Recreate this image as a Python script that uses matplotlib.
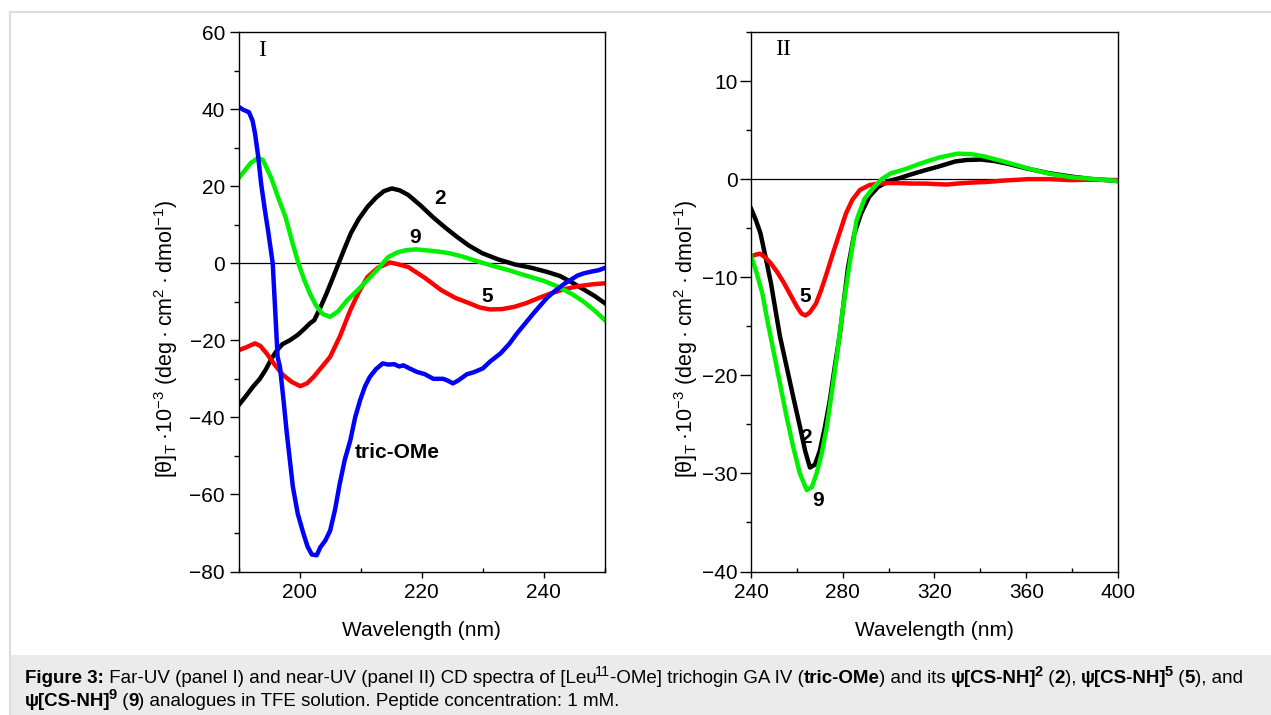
import matplotlib
matplotlib.use("Agg")
import matplotlib.pyplot as plt
from matplotlib.lines import Line2D
from matplotlib.patches import Rectangle
from matplotlib.font_manager import FontProperties
from matplotlib.ticker import MultipleLocator

plt.rcParams['font.family'] = ['Liberation Sans', 'DejaVu Sans']
plt.rcParams['mathtext.fontset'] = 'custom'
plt.rcParams['mathtext.rm'] = 'Liberation Sans'
plt.rcParams['mathtext.it'] = 'Liberation Sans:italic'
plt.rcParams['mathtext.bf'] = 'Liberation Sans:bold'

# ---- panel I (far-UV) ----
wl_tric = [190, 190.8, 191.7, 192.3, 192.7, 193.2, 193.7, 194.3, 194.9, 195.6, 196.0, 196.4,
           196.8, 197.4, 197.9, 198.4, 198.9, 199.7, 200.6, 201.3, 202.0, 202.8, 203.4, 204.2,
           205.0, 205.8, 206.6, 207.4, 208.3, 209.1, 209.9, 210.7, 211.5, 212.5, 213.6, 214.5,
           215.5, 216.3, 217.0, 218.0, 219.2, 220.5, 221.9, 223.5, 224.3, 225.1, 226.0, 227.4,
           228.5, 230.0, 231.2, 232.9, 234.3, 235.6, 237.0, 238.3, 239.5, 240.5, 241.8, 243.2,
           244.5, 245.5, 246.6, 248.0, 249.0, 250.0]
cd_tric = [40.6, 39.8, 39.2, 37, 33.7, 28, 20.7, 14, 7.8, 0, -12, -24.3,
           -27, -36, -44, -51, -58, -65, -70, -73.5, -75.6, -75.8, -73.7, -72,
           -69.4, -64, -57, -51, -46, -40, -35.6, -32, -29.5, -27.5, -26, -26.3,
           -26.2, -26.8, -26.5, -27.3, -28.2, -28.8, -30, -30, -30.5, -31.2, -30.4, -28.8,
           -28.3, -27.3, -25.5, -23.4, -21, -18.2, -15.5, -13, -10.8, -9, -7.2, -5.5,
           -4.2, -3.2, -2.6, -2.1, -1.8, -1.2]

wl_9a = [190, 191, 192, 193.2, 194, 195.4, 196.5, 197.7, 198.8, 199.8, 200.8, 201.7, 202.7,
         203.8, 205, 206.3, 207.8, 209.5, 211.1, 212.8, 214.5, 216.0, 217.5, 219.1, 221,
         222.8, 224.5, 226.5, 228.5, 231.2, 234, 236, 237.9, 240, 242, 244.5, 246.5, 248.3, 250]
cd_9a = [22, 24, 26, 27.3, 26.8, 22, 17, 12, 5.5, 0, -4.5, -7.9, -11,
         -13.2, -13.9, -12.5, -9.6, -7, -4.4, -1.5, 1.6, 2.8, 3.4, 3.6, 3.3,
         3, 2.6, 1.8, 0.8, -0.5, -1.7, -2.7, -3.6, -4.6, -5.9, -7.9, -10, -12.3, -14.8]

wl_2a = [190, 191.2, 192.4, 193.5, 194.5, 195.5, 196.3, 197.2, 198.4, 199.7, 200.8, 201.7,
         202.4, 203.4, 204.4, 205.4, 206.4, 207.4, 208.4, 209.7, 211.1, 212.5, 213.8, 215.1,
         216.4, 217.8, 219.8, 221.8, 223.8, 225.8, 227.8, 229.9, 232.5, 235.2, 238, 240.6,
         242.6, 244.5, 246.5, 248.3, 250]
cd_2a = [-36.9, -34.5, -32, -30, -27.5, -24.5, -22.6, -21, -20, -18.6, -17, -15.6,
         -14.8, -11.5, -7.9, -4, 0, 4, 7.8, 11.5, 14.6, 17, 18.7, 19.4,
         18.9, 17.7, 15, 12, 9.3, 6.8, 4.5, 2.6, 1, -0.3, -1.2, -2.3,
         -3.3, -4.9, -6.8, -8.5, -10.4]

wl_5a = [190, 191.3, 192.7, 193.6, 194.6, 196, 197.3, 198.7, 200.1, 201.2, 202.3, 203.6,
         205, 206.6, 208.3, 209.7, 211.1, 212.8, 214.8, 216.2, 217.8, 220.5, 223.2, 225.5,
         227.8, 229.5, 231.2, 233.2, 235.2, 237.2, 239.2, 241.2, 243.2, 245.5, 247.8, 250]
cd_5a = [-22.6, -21.8, -20.8, -21.5, -23.4, -26.5, -29, -30.8, -31.9, -31.2, -29.5, -27,
         -24.3, -19, -12.2, -7.5, -3.6, -1.2, 0.2, -0.3, -1, -3.8, -7, -9,
         -10.4, -11.5, -12, -11.9, -11.3, -10.3, -9, -7.8, -6.8, -6, -5.5, -5.2]

# ---- panel II (near-UV) ----
wl_2b = [240, 242, 244.1, 246.4, 248.7, 249.7, 252.6, 255.6, 258.5, 261.4, 263.6, 265.7,
         267.9, 270, 272.2, 274.4, 276.6, 278.8, 280.5, 282.3, 285, 288, 291.5, 295.4, 300,
         304.7, 310, 315.8, 322, 329, 334, 340.2, 346, 351.4, 360, 370, 380, 388.7, 395, 400]
cd_2b = [-3, -4.1, -5.5, -8, -10.6, -12, -16, -19.2, -22.3, -25.3, -27.7, -29.4,
         -29.1, -27.7, -25.3, -22.5, -19, -15.7, -12.4, -9, -5.6, -3.5, -1.8, -0.8, -0.2,
         0.1, 0.5, 0.9, 1.3, 1.8, 1.95, 2.0, 1.85, 1.6, 1.1, 0.6, 0.25, 0, -0.1, -0.2]

wl_9b = [240, 242.5, 245, 246.8, 249.7, 252.6, 255.5, 258.4, 261.3, 264.3, 266.5, 268.6,
         270.8, 273, 275.2, 277.4, 280.2, 283, 286, 289.5, 293.6, 297, 301, 307, 314, 322,
         330, 336, 342, 350, 360.8, 370, 379.4, 390, 400]
cd_9b = [-7.8, -9.6, -11.7, -14, -17.4, -20.8, -24.2, -27.3, -30, -31.7, -31.4, -30,
         -28, -25.3, -21.8, -18.1, -13, -8.6, -4.2, -2, -0.8, 0, 0.6, 1, 1.6, 2.2,
         2.6, 2.55, 2.3, 1.8, 1.1, 0.55, 0.2, 0, -0.2]

wl_5b = [240, 242, 244, 246.3, 248.7, 251.5, 254.4, 257.2, 260, 262, 263.7, 265.6, 268.3,
         270.6, 273, 275.8, 278.6, 281.4, 284.2, 287.5, 291.7, 296, 300, 304.7, 310, 316,
         320, 325.3, 330, 336, 342, 350, 360.8, 370, 379, 390, 400]
cd_5b = [-7.9, -7.7, -7.6, -8, -8.6, -9.5, -10.6, -11.8, -13, -13.7, -13.9, -13.6, -12.7,
         -11.3, -9.6, -7.5, -5.5, -3.5, -2.1, -1.1, -0.6, -0.45, -0.4, -0.4, -0.45, -0.45,
         -0.5, -0.55, -0.45, -0.35, -0.3, -0.15, 0, 0, -0.1, -0.05, -0.1]

W, H = 1271, 715
fig = plt.figure(figsize=(W / 100, H / 100), dpi=100)

# page frame and caption box
fig.add_artist(Rectangle((10.5 / W, 0), 1 - 10.5 / W, (H - 655) / H, transform=fig.transFigure,
                         facecolor='#ebebeb', edgecolor='none'))
fig.add_artist(Line2D([10 / W, 1], [1 - 12 / H, 1 - 12 / H], color='#dcdcdc', lw=1.5))
fig.add_artist(Line2D([10 / W, 10 / W], [0, 1 - 12 / H], color='#dcdcdc', lw=1.5))

lw = 3.2
green = '#00f000'
ylab = ("[θ]$_\\mathregular{T}$\u2009·10$^\\mathregular{-3}$ (deg\u2009·\u2009cm$^\\mathregular{2}$"
        "\u2009·\u2009dmol$^\\mathregular{-1}$)")


def style_axes(ax, ymaj, ymin, xmaj, xmin, ylen, ypad):
    ax.yaxis.set_major_locator(MultipleLocator(ymaj))
    ax.yaxis.set_minor_locator(MultipleLocator(ymin))
    ax.xaxis.set_major_locator(MultipleLocator(xmaj))
    ax.xaxis.set_minor_locator(MultipleLocator(xmin))
    ax.tick_params(axis='y', which='major', direction='out', length=ylen, width=1, pad=ypad, labelsize=15)
    ax.tick_params(axis='y', which='minor', direction='out', length=3.5, width=1)
    ax.tick_params(axis='x', which='major', direction='out', length=4, width=1, pad=4, labelsize=15)
    ax.tick_params(axis='x', which='minor', direction='in', length=3, width=1)
    for s in ax.spines.values():
        s.set_linewidth(1)
    ax.axhline(0, color='k', lw=0.9, zorder=1)


# panel I
ax1 = fig.add_axes([238.5 / W, (H - 571.5) / H, (605 - 238.5) / W, (571.5 - 32) / H])
ax1.plot(wl_2a, cd_2a, color='black', lw=lw)
ax1.plot(wl_5a, cd_5a, color='#ff0000', lw=lw)
ax1.plot(wl_9a, cd_9a, color=green, lw=lw)
ax1.plot(wl_tric, cd_tric, color='#0000ff', lw=lw)
ax1.set_xlim(190, 250)
ax1.set_ylim(-80, 60)
style_axes(ax1, 20, 10, 20, 10, 6.2, 3.5)
ax1.text(0.065, 0.966, "I", transform=ax1.transAxes, family='Liberation Serif', fontsize=17,
         ha='center', va='center')
ax1.text(223, 16.9, "2", fontsize=15, weight='bold', ha='center', va='center')
ax1.text(218.9, 6.75, "9", fontsize=15, weight='bold', ha='center', va='center')
ax1.text(230.7, -8.6, "5", fontsize=15, weight='bold', ha='center', va='center')
ax1.text(209.1, -49.1, "tric-OMe", fontsize=15, weight='bold', ha='left', va='center')
ax1.text(-0.198, 0.43, ylab, transform=ax1.transAxes, rotation=90, fontsize=15.5,
         ha='center', va='center')
ax1.text(0.5, -0.109, "Wavelength (nm)", transform=ax1.transAxes, fontsize=15,
         ha='center', va='center')

# panel II
ax2 = fig.add_axes([751 / W, (H - 571.5) / H, (1118 - 751) / W, (571.5 - 32) / H])
ax2.plot(wl_2b, cd_2b, color='black', lw=lw)
ax2.plot(wl_5b, cd_5b, color='#ff0000', lw=lw)
ax2.plot(wl_9b, cd_9b, color=green, lw=lw)
ax2.set_xlim(240, 400)
ax2.set_ylim(-40, 15)
style_axes(ax2, 10, 5, 40, 20, 8, 1.5)
ax2.text(0.088, 0.968, "II", transform=ax2.transAxes, family='Liberation Serif', fontsize=17,
         ha='center', va='center')
ax2.text(263.5, -12.0, "5", fontsize=15, weight='bold', ha='center', va='center')
ax2.text(264.2, -26.3, "2", fontsize=15, weight='bold', ha='center', va='center')
ax2.text(269.2, -32.8, "9", fontsize=15, weight='bold', ha='center', va='center')
ax2.text(-0.177, 0.43, ylab, transform=ax2.transAxes, rotation=90, fontsize=15.5,
         ha='center', va='center')
ax2.text(0.5, -0.109, "Wavelength (nm)", transform=ax2.transAxes, fontsize=15,
         ha='center', va='center')

# caption, written chunk by chunk so bold parts and superscripts line up
cap_fs = 13.5
line1 = [("Figure 3:", 1, 0), (" Far-UV (panel I) and near-UV (panel II) CD spectra of [Leu", 0, 0),
         ("11", 0, 1), ("-OMe] trichogin GA IV (", 0, 0), ("tric-OMe", 1, 0), (") and its ", 0, 0),
         ("ψ[CS-NH]", 1, 0), ("2", 1, 1), (" (", 0, 0), ("2", 1, 0), ("), ", 0, 0),
         ("ψ[CS-NH]", 1, 0), ("5", 1, 1), (" (", 0, 0), ("5", 1, 0), ("), and", 0, 0)]
line2 = [("ψ[CS-NH]", 1, 0), ("9", 1, 1), (" (", 0, 0), ("9", 1, 0),
         (") analogues in TFE solution. Peptide concentration: 1 mM.", 0, 0)]

renderer = fig.canvas.get_renderer()


def text_width(s, fp):
    w1 = renderer.get_text_width_height_descent("|" + s + "|", fp, ismath=False)[0]
    w0 = renderer.get_text_width_height_descent("||", fp, ismath=False)[0]
    return w1 - w0


def put_line(parts, x0, base):
    x = x0
    for txt, bold, sup in parts:
        size = cap_fs * 0.78 if sup else cap_fs
        fp = FontProperties(family='Liberation Sans', weight='bold' if bold else 'normal', size=size)
        y = base - (cap_fs * 0.38 * 100 / 72 if sup else 0)
        if sup:
            x -= 2
        fig.text(x / W, 1 - y / H, txt, fontproperties=fp, ha='left', va='baseline')
        x += text_width(txt, fp)


put_line(line1, 25, 683)
put_line(line2, 25, 706)

fig.savefig("out.png", dpi=100)
